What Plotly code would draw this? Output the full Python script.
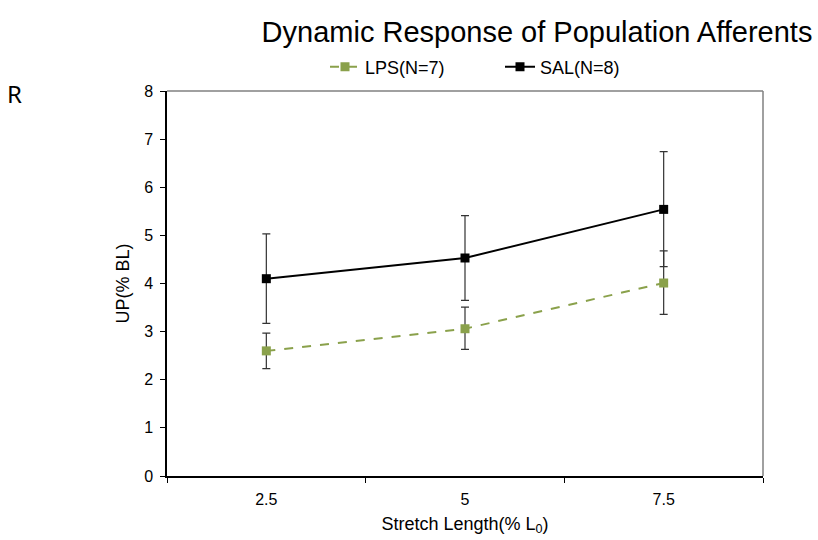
import plotly.graph_objects as go

categories = ["2.5", "5", "7.5"]
lps_mean = [2.60, 3.06, 4.01]
lps_err_plus = [0.37, 0.45, 0.67]
lps_err_minus = [0.37, 0.43, 0.65]
sal_mean = [4.10, 4.53, 5.54]
sal_err_plus = [0.93, 0.88, 1.20]
sal_err_minus = [0.93, 0.88, 1.19]

FONT = "Liberation Sans, Arial, sans-serif"
GREEN = "#8AA14B"
PLOT_L, PLOT_R, PLOT_T, PLOT_B = 167, 763, 91, 476
PW = PLOT_R - PLOT_L
PH = PLOT_B - PLOT_T

fig = go.Figure()
fig.add_trace(go.Scatter(
    x=categories, y=lps_mean, name="LPS(N=7)", mode="lines+markers",
    line=dict(color=GREEN, width=2, dash="dash"),
    marker=dict(symbol="square", size=9, color=GREEN),
    error_y=dict(type="data", symmetric=False, array=lps_err_plus, arrayminus=lps_err_minus,
                 color="#333333", thickness=1.2, width=4),
))
fig.add_trace(go.Scatter(
    x=categories, y=sal_mean, name="SAL(N=8)", mode="lines+markers",
    line=dict(color="#000000", width=2),
    marker=dict(symbol="square", size=9, color="#000000"),
    error_y=dict(type="data", symmetric=False, array=sal_err_plus, arrayminus=sal_err_minus,
                 color="#333333", thickness=1.2, width=4),
))

fig.update_layout(
    width=818, height=540,
    margin=dict(l=PLOT_L, r=818 - PLOT_R, t=PLOT_T, b=540 - PLOT_B, autoexpand=False),
    paper_bgcolor="white", plot_bgcolor="white",
    font=dict(family=FONT, size=16, color="#000000"),
    title=dict(text="Dynamic Response of Population Afferents", x=537 / 818, xanchor="center",
               y=1 - 32 / 540, yanchor="middle", font=dict(size=29, family=FONT, color="#000000")),
    showlegend=True,
    legend=dict(orientation="h", x=(325 - PLOT_L) / PW, xanchor="left",
                y=1 + (PLOT_T - 67) / PH, yanchor="middle",
                entrywidth=130, entrywidthmode="pixels",
                font=dict(size=18, family=FONT), traceorder="normal"),
    xaxis=dict(type="category", tickson="boundaries", range=[-0.5, 2.5], ticks="outside", ticklen=5,
               tickcolor="#000000", showline=True, linecolor="#000000", linewidth=1.5,
               mirror=False, showgrid=False, zeroline=False, ticklabelstandoff=8, automargin=False,
               title=dict(text="Stretch Length(% L<sub>0</sub>)", font=dict(size=18, family=FONT), standoff=10),
               tickfont=dict(size=16, family=FONT)),
    yaxis=dict(range=[0, 8], dtick=1, ticks="outside", ticklen=5, tickcolor="#000000",
               showline=True, linecolor="#000000", linewidth=1.5, showgrid=False, zeroline=False,
               ticklabelstandoff=4, automargin=False,
               title=dict(text="UP(% BL)", font=dict(size=18, family=FONT), standoff=10),
               tickfont=dict(size=16, family=FONT)),
)

# gray frame on top and right sides of plot area
fig.add_shape(type="line", xref="paper", yref="paper", x0=0, x1=1, y0=1, y1=1,
              line=dict(color="#808080", width=1.5))
fig.add_shape(type="line", xref="paper", yref="paper", x0=1, x1=1, y0=0, y1=1,
              line=dict(color="#808080", width=1.5))

fig.add_annotation(text="R", xref="paper", yref="paper", x=(5 - PLOT_L) / PW,
                   y=1 + (PLOT_T - 93) / PH, xanchor="left", yanchor="middle", showarrow=False,
                   font=dict(size=24, family="Noto Sans", color="#000000"))

fig.write_html("out.html")
